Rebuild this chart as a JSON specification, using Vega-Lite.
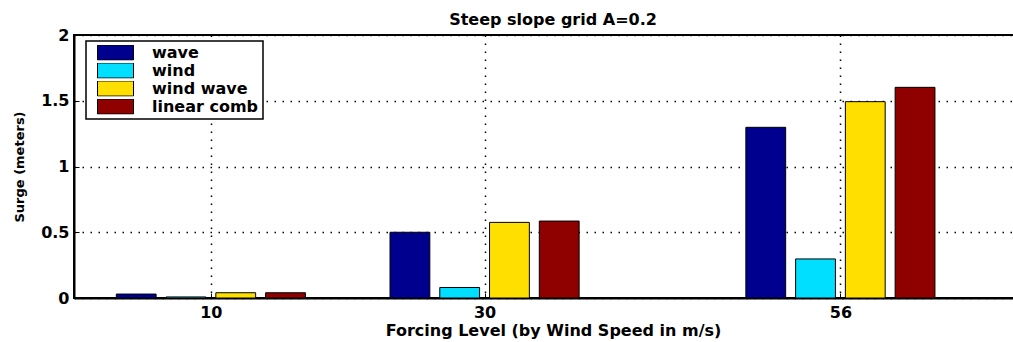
{
  "$schema": "https://vega.github.io/schema/vega-lite/v6.json",
  "autosize": {"type": "none"},
  "padding": {"left": 74, "top": 35, "right": 0, "bottom": 44},
  "width": 958,
  "height": 263,
  "background": "white",
  "title": {
    "text": "Steep slope grid A=0.2",
    "font": "DejaVu Sans",
    "fontSize": 16,
    "fontWeight": "bold",
    "color": "black",
    "baseline": "alphabetic",
    "offset": 5,
    "dy": 19
  },
  "data": {
    "values": [
      {"level": 10, "series": "wave", "surge": 0.03},
      {"level": 10, "series": "wind", "surge": 0.008},
      {"level": 10, "series": "wind wave", "surge": 0.04},
      {"level": 10, "series": "linear comb", "surge": 0.04},
      {"level": 30, "series": "wave", "surge": 0.5},
      {"level": 30, "series": "wind", "surge": 0.08},
      {"level": 30, "series": "wind wave", "surge": 0.575},
      {"level": 30, "series": "linear comb", "surge": 0.585},
      {"level": 56, "series": "wave", "surge": 1.298},
      {"level": 56, "series": "wind", "surge": 0.297},
      {"level": 56, "series": "wind wave", "surge": 1.493},
      {"level": 56, "series": "linear comb", "surge": 1.602}
    ]
  },
  "transform": [
    {"calculate": "indexof(['wave','wind','wind wave','linear comb'], datum.series)", "as": "idx"},
    {"calculate": "datum.level + (datum.idx - 1.5) * 3.636 - 1.4545", "as": "x0"},
    {"calculate": "datum.x0 + 2.909", "as": "x1"}
  ],
  "mark": {"type": "bar", "stroke": "black", "strokeWidth": 1, "opacity": 1},
  "encoding": {
    "x": {
      "field": "x0",
      "type": "quantitative",
      "scale": {"domain": [0, 70], "nice": false, "zero": false},
      "axis": {
        "values": [10, 30, 56],
        "title": "Forcing Level (by Wind Speed in m/s)",
        "titlePadding": 2
      }
    },
    "x2": {"field": "x1"},
    "y": {
      "field": "surge",
      "type": "quantitative",
      "scale": {"domain": [0, 2], "nice": false, "padding": 0},
      "axis": {
        "values": [0, 0.5, 1, 1.5, 2],
        "format": "~g",
        "title": "Surge (meters)",
        "titleFontSize": 13,
        "titlePadding": 14
      }
    },
    "y2": {"datum": 0},
    "fill": {
      "field": "series",
      "type": "nominal",
      "scale": {
        "domain": ["wave", "wind", "wind wave", "linear comb"],
        "range": ["#00008F", "#00DFFF", "#FFDF00", "#8F0000"]
      },
      "legend": {
        "title": null,
        "orient": "none",
        "legendX": 12,
        "legendY": 6,
        "padding": 4,
        "strokeColor": "black",
        "fillColor": "white",
        "symbolType": "M-1,-0.42H1V0.42H-1Z",
        "symbolSize": 1296,
        "symbolStrokeColor": "black",
        "symbolStrokeWidth": 1,
        "symbolOpacity": 1,
        "symbolOffset": 7,
        "clipHeight": 15,
        "rowPadding": 1,
        "labelOffset": 18,
        "labelFont": "DejaVu Sans",
        "labelFontSize": 16,
        "labelFontWeight": "bold",
        "labelColor": "black",
        "labelLimit": 300
      }
    }
  },
  "config": {
    "view": {"stroke": "black", "strokeWidth": 2},
    "legend": {"strokeWidth": 1.5},
    "axis": {
      "domainColor": "black",
      "domainWidth": 2,
      "tickColor": "black",
      "tickSize": -5,
      "tickWidth": 1,
      "grid": true,
      "gridColor": "black",
      "gridDash": [1.5, 6.5],
      "gridWidth": 1.5,
      "gridOpacity": 1,
      "labelFont": "DejaVu Sans",
      "labelFontSize": 16,
      "labelFontWeight": "bold",
      "labelColor": "black",
      "titleFont": "DejaVu Sans",
      "titleFontSize": 16,
      "titleFontWeight": "bold",
      "titleColor": "black"
    },
    "axisX": {"labelPadding": 11},
    "axisY": {"labelPadding": 10}
  }
}
